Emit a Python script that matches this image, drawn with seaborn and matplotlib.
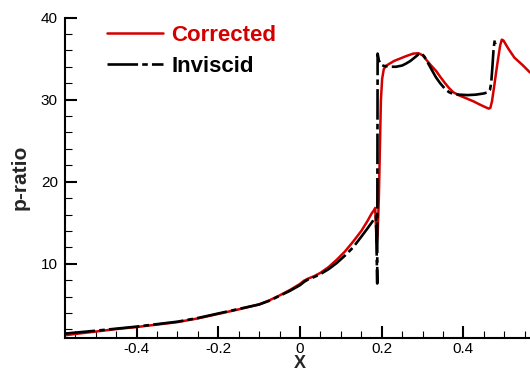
import matplotlib
matplotlib.use("Agg")
import matplotlib.pyplot as plt
import seaborn as sns
from matplotlib.ticker import MultipleLocator

# ---- data ----
corrected_x = [-0.576, -0.5, -0.45, -0.4, -0.35, -0.3, -0.25, -0.2, -0.15, -0.1, -0.075, -0.05,
               -0.025, 0.0, 0.01, 0.02, 0.035, 0.05, 0.07, 0.09, 0.11, 0.13, 0.15, 0.165, 0.175,
               0.182, 0.184, 0.186, 0.188, 0.190, 0.193, 0.196, 0.198, 0.201, 0.205, 0.21, 0.23,
               0.245, 0.26, 0.277, 0.29, 0.3, 0.31, 0.32, 0.333, 0.343, 0.355, 0.365, 0.375, 0.39,
               0.405, 0.424, 0.44, 0.455, 0.462, 0.466, 0.47, 0.475, 0.48, 0.485, 0.49, 0.494,
               0.498, 0.51, 0.525, 0.545, 0.563]
corrected_y = [1.3, 1.75, 2.05, 2.3, 2.6, 2.9, 3.35, 3.9, 4.45, 5.05, 5.55, 6.15,
               6.8, 7.55, 7.95, 8.2, 8.5, 8.9, 9.6, 10.5, 11.5, 12.7, 14.0, 15.2, 16.1,
               16.6, 16.8, 14.5, 12.6, 13.5, 18.0, 25.0, 29.9, 32.5, 33.7, 34.1, 34.7,
               35.0, 35.3, 35.6, 35.65, 35.4, 34.8, 34.2, 33.5, 32.8, 32.0, 31.4, 30.9, 30.5,
               30.2, 29.8, 29.4, 29.05, 28.9, 29.0, 29.8, 31.5, 33.3, 35.0, 36.6, 37.3,
               37.2, 36.2, 35.1, 34.2, 33.3]

inviscid_x = [-0.576, -0.5, -0.45, -0.4, -0.35, -0.3, -0.25, -0.2, -0.15, -0.1, -0.075, -0.05,
              -0.025, 0.0, 0.01, 0.02, 0.035, 0.05, 0.07, 0.09, 0.11, 0.13, 0.15, 0.165, 0.178,
              0.186, 0.189, 0.190, 0.193, 0.197, 0.205, 0.22, 0.235, 0.25, 0.26, 0.27, 0.28,
              0.29, 0.298, 0.305, 0.315, 0.325, 0.333, 0.343, 0.355, 0.365, 0.375, 0.39, 0.41,
              0.43, 0.45, 0.46, 0.465, 0.468, 0.471, 0.474, 0.477, 0.479]
inviscid_y = [1.5, 1.85, 2.1, 2.35, 2.65, 2.95, 3.4, 3.95, 4.5, 5.05, 5.5, 6.1,
              6.7, 7.4, 7.8, 8.1, 8.4, 8.75, 9.35, 10.1, 11.0, 12.0, 13.3, 14.3, 15.2,
              15.8, 7.6, 35.6, 34.8, 34.3, 34.1, 34.0, 34.0, 34.15, 34.4, 34.7, 35.1,
              35.5, 35.6, 35.2, 34.3, 33.4, 32.7, 32.0, 31.3, 30.9, 30.7, 30.6, 30.55,
              30.6, 30.75, 30.9, 31.2, 32.0, 34.0, 36.3, 37.3, 36.8]

series_labels = ["Corrected", "Inviscid"]
x_ticks = [-0.4, -0.2, 0, 0.2, 0.4]
x_tick_labels = ["-0.4", "-0.2", "0", "0.2", "0.4"]
y_ticks = [10, 20, 30, 40]

RED = "#d40000"

sns.set_theme(style="ticks")
plt.rcParams["font.family"] = ["Liberation Sans", "DejaVu Sans"]
plt.rcParams["lines.scale_dashes"] = False

fig = plt.figure(figsize=(5.30, 3.74), dpi=100)
ax = fig.add_axes([64.7 / 530, (374 - 337.7) / 374, (530 - 64.7) / 530, 320.2 / 374])

sns.lineplot(x=corrected_x, y=corrected_y, sort=False, estimator=None, ax=ax,
             color=RED, lw=1.8, label=series_labels[0])
sns.lineplot(x=inviscid_x, y=inviscid_y, sort=False, estimator=None, ax=ax,
             color="black", lw=1.9, ls=(0, (22, 3, 4, 3)), label=series_labels[1])

ax.set_xlim(-0.576, 0.563)
ax.set_ylim(1, 40)
ax.set_xticks(x_ticks)
ax.set_xticklabels(x_tick_labels)
ax.set_yticks(y_ticks)
ax.xaxis.set_minor_locator(MultipleLocator(0.05))
ax.yaxis.set_minor_locator(MultipleLocator(2))
ax.tick_params(which="major", direction="in", length=8.5, width=1.5, labelsize=11,
               colors="black", pad=5)
ax.tick_params(axis="x", which="major", pad=3)
ax.tick_params(which="minor", direction="in", length=5, width=0.8, colors="black")
for s in ["top", "right"]:
    ax.spines[s].set_visible(False)
for s in ["left", "bottom"]:
    ax.spines[s].set_linewidth(1.5)
    ax.spines[s].set_color("black")

ax.set_xlabel("X", fontsize=13, fontweight="bold")
ax.xaxis.set_label_coords(0.506, (337.7 - 355.5) / 320.2)
ax.set_ylabel("p-ratio", fontsize=15, fontweight="bold", labelpad=8)

leg = ax.legend(loc="upper left", bbox_to_anchor=(0.091, 0.976), frameon=False,
                borderpad=0, borderaxespad=0, handlelength=2.5, handletextpad=0.4,
                labelspacing=0.42, prop={"size": 16, "weight": "bold"})
leg.get_texts()[0].set_color(RED)
leg.get_texts()[1].set_color("black")

fig.savefig("out.png", dpi=100)
